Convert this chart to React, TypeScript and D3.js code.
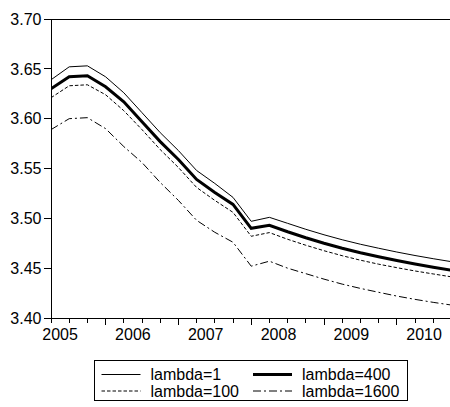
import React from "react";
import * as d3 from "d3";

const quarters = [
  "2005Q2", "2005Q3", "2005Q4",
  "2006Q1", "2006Q2", "2006Q3", "2006Q4",
  "2007Q1", "2007Q2", "2007Q3", "2007Q4",
  "2008Q1", "2008Q2", "2008Q3", "2008Q4",
  "2009Q1", "2009Q2", "2009Q3", "2009Q4",
  "2010Q1", "2010Q2", "2010Q3", "2010Q4",
];

const years = ["2005", "2006", "2007", "2008", "2009", "2010"];

const lambda1 = [
  3.639, 3.652, 3.653, 3.642, 3.626, 3.606, 3.586, 3.568, 3.548, 3.535, 3.521,
  3.497, 3.501, 3.495, 3.489, 3.4835, 3.4785, 3.474, 3.470, 3.4662, 3.4627, 3.4595, 3.4565,
];

const lambda400 = [
  3.630, 3.642, 3.643, 3.632, 3.617, 3.597, 3.577, 3.559, 3.539, 3.526, 3.514,
  3.490, 3.493, 3.4865, 3.4805, 3.475, 3.470, 3.4655, 3.4615, 3.4577, 3.4542, 3.451, 3.448,
];

const lambda100 = [
  3.621, 3.633, 3.634, 3.624, 3.608, 3.589, 3.569, 3.551, 3.531, 3.518, 3.506,
  3.482, 3.4857, 3.479, 3.473, 3.4675, 3.4625, 3.458, 3.454, 3.4505, 3.4472, 3.4442, 3.4413,
];

const lambda1600 = [
  3.589, 3.600, 3.601, 3.590, 3.572, 3.556, 3.536, 3.518, 3.498, 3.486, 3.476,
  3.452, 3.457, 3.450, 3.4445, 3.439, 3.434, 3.4297, 3.4258, 3.422, 3.4187, 3.4157, 3.413,
];

const yTicks = [3.4, 3.45, 3.5, 3.55, 3.6, 3.65, 3.7];

const seriesNames = ["lambda=1", "lambda=400", "lambda=100", "lambda=1600"];

const W = 450;
const H = 407;
const left = 51;
const top = 19;
const bottom = 318;
const right = 450;

const FONT = "'Liberation Sans', Arial, Helvetica, sans-serif";

export default function App() {
  const x = d3.scalePoint<string>().domain(quarters).range([left, left + 22 * 18.2]);
  const y = d3.scaleLinear().domain([3.4, 3.7]).range([bottom, top]);

  const line = d3
    .line<number>()
    .x((_, i) => x(quarters[i]) as number)
    .y((d) => y(d));

  const series = [
    { name: seriesNames[0], values: lambda1, width: 1, dash: undefined as string | undefined },
    { name: seriesNames[1], values: lambda400, width: 3, dash: undefined },
    { name: seriesNames[2], values: lambda100, width: 1, dash: "3.5,2" },
    { name: seriesNames[3], values: lambda1600, width: 1, dash: "8,3,2,3" },
  ];

  const fmt = d3.format(".2f");

  // legend layout
  const legX = 94;
  const legY = 360.5;
  const legW = 313;
  const legH = 40;
  const rowY = [374.5, 391];
  const colX = [101.5, 253];
  const sampleLen = 39;
  const textGap = 10;

  return (
    <div style={{ position: "absolute", left: 0, top: 0, width: W, height: H, background: "#fff" }}>
      <svg width={W} height={H} style={{ display: "block" }}>
        <defs>
          <clipPath id="plotClip">
            <rect x={left} y={top - 3} width={right - left} height={bottom - top + 6} />
          </clipPath>
        </defs>
        <rect x={0} y={0} width={W} height={H} fill="#fff" />

        <g shapeRendering="crispEdges" stroke="#000" strokeWidth={1}>
          <line x1={left} x2={right} y1={top} y2={top} />
          <line x1={left} x2={left} y1={top} y2={bottom} />
          <line x1={left} x2={right} y1={bottom} y2={bottom} />
          {yTicks.map((t) => (
            <line key={"yt" + t} x1={left - 7} x2={left} y1={y(t)} y2={y(t)} />
          ))}
          {quarters.map((q) => {
            const xx = x(q) as number;
            if (xx > right) return null;
            const major = q.endsWith("Q1");
            return <line key={"xt" + q} x1={xx} x2={xx} y1={bottom} y2={bottom + (major ? 7 : 4.5)} />;
          })}
        </g>

        {yTicks.map((t) => (
          <text
            key={"yl" + t}
            x={41.5}
            y={y(t)}
            dy="0.36em"
            textAnchor="end"
            fontFamily={FONT}
            fontSize={16}
            fill="#000"
          >
            {fmt(t)}
          </text>
        ))}

        {years.map((yr) => {
          const cx = ((x(yr + "Q2") as number) + (x(yr + "Q3") as number)) / 2;
          return (
            <text key={"xl" + yr} x={cx} y={340} textAnchor="middle" fontFamily={FONT} fontSize={16} fill="#000">
              {yr}
            </text>
          );
        })}

        <g clipPath="url(#plotClip)">
          {series.map((s) => (
            <path
              key={s.name}
              d={line(s.values) || ""}
              fill="none"
              stroke="#000"
              strokeWidth={s.width}
              strokeDasharray={s.dash}
              strokeLinejoin="miter"
            />
          ))}
        </g>

        <rect
          x={legX}
          y={legY}
          width={legW}
          height={legH}
          fill="#fff"
          stroke="#000"
          strokeWidth={1}
          shapeRendering="crispEdges"
        />
        {series.map((s, i) => {
          const cx = colX[i % 2];
          const cy = rowY[Math.floor(i / 2)];
          return (
            <g key={"leg" + s.name}>
              <line
                x1={cx}
                x2={cx + sampleLen}
                y1={cy}
                y2={cy}
                stroke="#000"
                strokeWidth={s.width}
                strokeDasharray={s.dash}
              />
              <text
                x={cx + sampleLen + textGap}
                y={cy}
                dy="0.36em"
                fontFamily={FONT}
                fontSize={16}
                fill="#000"
              >
                {s.name}
              </text>
            </g>
          );
        })}
      </svg>
    </div>
  );
}
